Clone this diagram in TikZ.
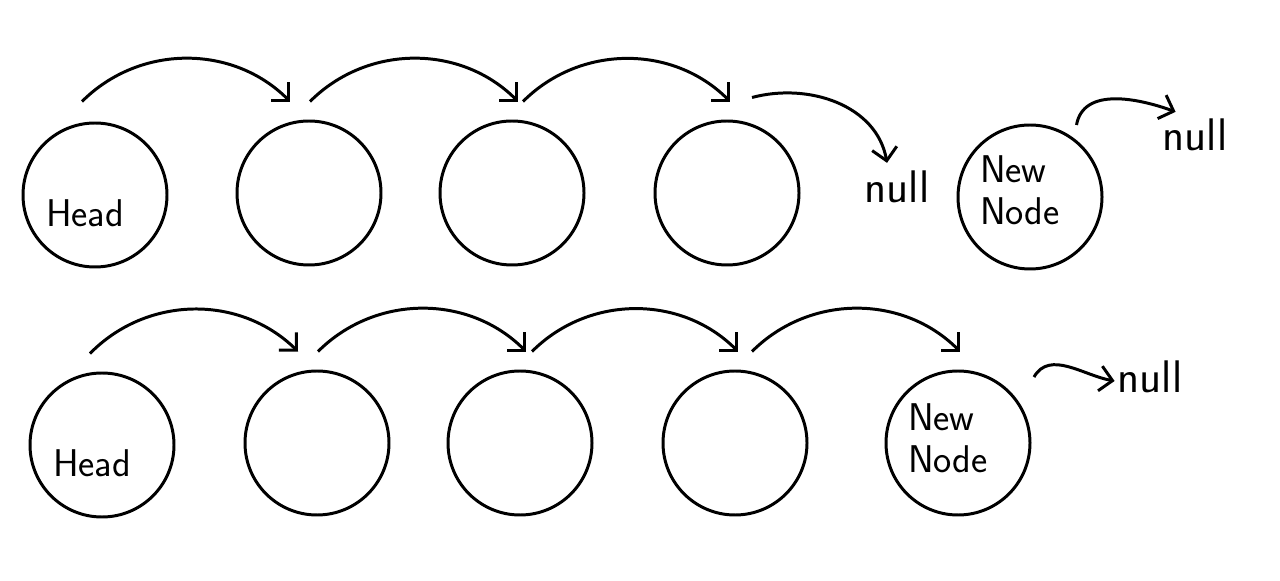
\documentclass[tikz,border=0pt]{standalone}
\usepackage{tikz}
\usetikzlibrary{arrows.meta, positioning}
\tikzstyle{cell} = [circle, draw, line width=1.7pt, minimum size=2.88cm, inner sep=0pt]
\tikzstyle{txt} = [inner sep=1pt, font=\sffamily\fontsize{22}{24}\selectfont, align=left]
\tikzstyle{nulltxt} = [txt, font=\sffamily\fontsize{26}{28}\selectfont]
\tikzstyle{link} = [line width=1.7pt, -{Straight Barb[length=2.5mm, width=5mm]}]

\begin{document}
\begin{tikzpicture}
    \useasboundingbox (0,0) rectangle (25.6,11.6);
    % First list, new node not yet linked
    \node [cell] (head1) at (1.9,7.7) {};
    \node [cell] (a1) at (6.18,7.74) {};
    \node [cell] (b1) at (10.24,7.74) {};
    \node [cell] (c1) at (14.54,7.74) {};
    \node [cell] (new1) at (20.6,7.66) {};
    \node [txt] (headtxt1) at ([shift={(-0.2,-0.36)}]head1.center) {Head};
    \node [txt] (newtxt1) at ([shift={(-0.2,0.14)}]new1.center) {New\\Node};
    \node [nulltxt] (null1) at (17.94,7.86) {null};
    \node [nulltxt] (null2) at (23.9,8.9) {null};

    \draw [link] ([shift={(-0.26,0.4)}]head1.north) to[bend left=45] ([shift={(-0.38,0.36)}]a1.north);
    \draw [link] ([shift={(0.02,0.36)}]a1.north) to[bend left=45] ([shift={(0.12,0.36)}]b1.north);
    \draw [link] ([shift={(0.22,0.36)}]b1.north) to[bend left=45] ([shift={(0.06,0.36)}]c1.north);
    \draw [link] ([shift={(0.5,0.44)}]c1.north) to[out=15, in=100] ([shift={(-0.2,0.12)}]null1.north);
    \draw [link] ([shift={(0.93,1.44)}]new1.center) to[out=80, in=160] ([shift={(0.3,0.1)}]null2.north west);

    % Second list, new node appended at the tail
    \node [cell] (head2) at (2.04,2.7) {};
    \node [cell] (a2) at (6.34,2.74) {};
    \node [cell] (b2) at (10.4,2.74) {};
    \node [cell] (c2) at (14.7,2.74) {};
    \node [cell] (new2) at (19.16,2.74) {};
    \node [txt] (headtxt2) at ([shift={(-0.2,-0.36)}]head2.center) {Head};
    \node [txt] (newtxt2) at ([shift={(-0.2,0.1)}]new2.center) {New\\Node};
    \node [nulltxt] (null3) at (23.0,4.06) {null};

    \draw [link] ([shift={(-0.24,0.36)}]head2.north) to[bend left=45] ([shift={(-0.38,0.36)}]a2.north);
    \draw [link] ([shift={(0.02,0.36)}]a2.north) to[bend left=45] ([shift={(0.12,0.36)}]b2.north);
    \draw [link] ([shift={(0.24,0.36)}]b2.north) to[bend left=45] ([shift={(0.06,0.36)}]c2.north);
    \draw [link] ([shift={(0.34,0.36)}]c2.north) to[bend left=45] ([shift={(0.04,0.36)}]new2.north);
    \draw [link] ([shift={(0.48,0.28)}]new2.north east) to[out=60, in=170] ([shift={(-0.02,-0.08)}]null3.west);
\end{tikzpicture}
\end{document}
